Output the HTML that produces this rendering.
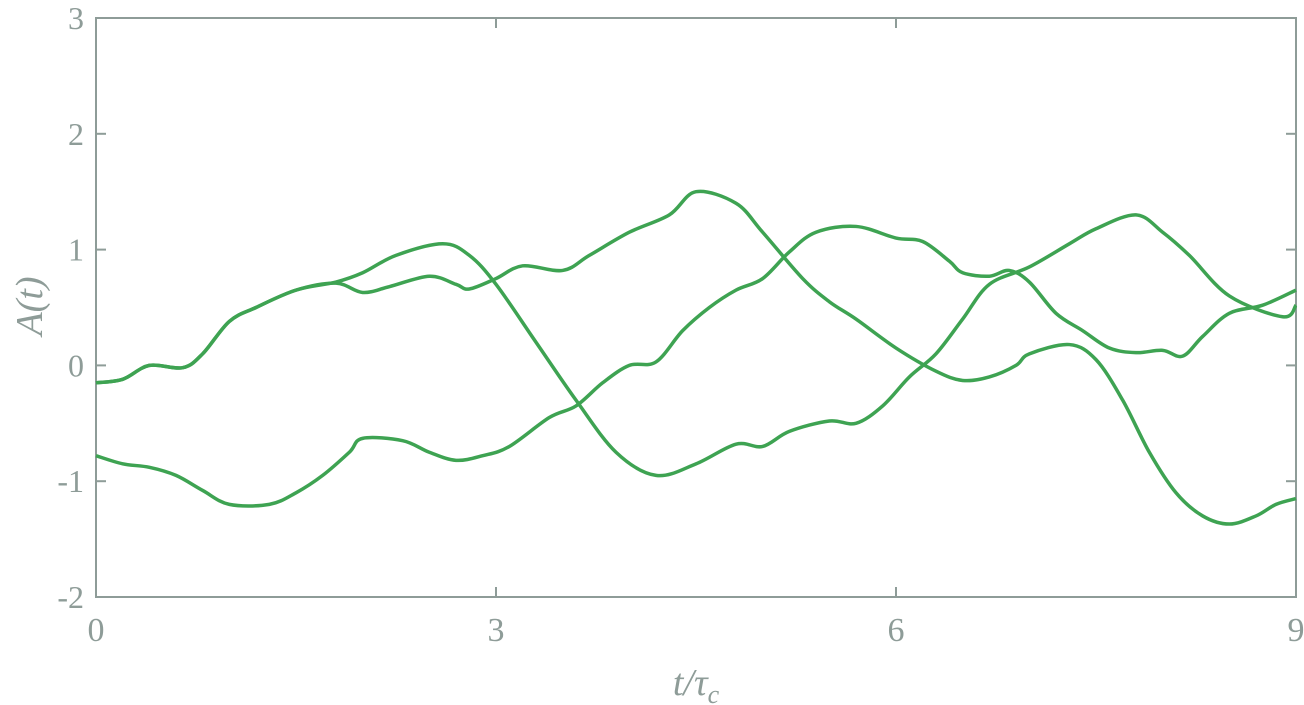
<!DOCTYPE html>
<html><head><meta charset="utf-8"><style>
html,body{margin:0;padding:0;background:#fff;}
svg{display:block;}
text{font-family:"Liberation Serif",serif;fill:#8e9c98;}
</style></head><body>
<svg id="chart" width="1304" height="705" viewBox="0 0 1304 705" xmlns="http://www.w3.org/2000/svg"></svg>
<script>
const xTicks=[0,3,6,9];
const yTicks=[-2,-1,0,1,2,3];
const xTickLabels=["0","3","6","9"];
const yTickLabels=["-2","-1","0","1","2","3"];
const s1t=[0,0.2,0.4,0.65,0.8,1.0,1.2,1.5,1.8,2.0,2.2,2.5,2.7,2.8,3.0,3.2,3.5,3.7,4.0,4.3,4.5,4.8,5.0,5.3,5.5,5.7,6.0,6.3,6.5,6.7,6.9,7.0,7.3,7.5,7.7,7.9,8.1,8.3,8.5,8.7,8.85,9.0];
const s1v=[-0.15,-0.12,0.0,-0.02,0.1,0.38,0.5,0.65,0.71,0.63,0.68,0.77,0.7,0.66,0.75,0.86,0.82,0.95,1.15,1.3,1.5,1.4,1.15,0.75,0.55,0.4,0.15,-0.05,-0.13,-0.1,0.0,0.1,0.18,0.05,-0.3,-0.75,-1.1,-1.3,-1.37,-1.3,-1.2,-1.15];
const s2t=[0,0.2,0.4,0.6,0.8,1.0,1.3,1.5,1.7,1.9,2.0,2.3,2.5,2.7,2.9,3.1,3.4,3.6,3.8,4.0,4.2,4.4,4.6,4.8,5.0,5.2,5.4,5.7,6.0,6.2,6.4,6.5,6.7,6.85,7.0,7.2,7.4,7.6,7.8,8.0,8.15,8.3,8.5,8.75,9.0];
const s2v=[-0.78,-0.85,-0.88,-0.95,-1.08,-1.2,-1.2,-1.1,-0.95,-0.75,-0.63,-0.65,-0.75,-0.82,-0.78,-0.7,-0.45,-0.35,-0.15,0.0,0.03,0.3,0.5,0.65,0.75,0.98,1.15,1.2,1.1,1.07,0.9,0.8,0.77,0.82,0.72,0.45,0.3,0.15,0.11,0.13,0.08,0.25,0.45,0.52,0.65];
const s3t=[0,0.2,0.4,0.65,0.8,1.0,1.2,1.5,1.8,2.0,2.25,2.6,2.8,3.0,3.3,3.6,3.9,4.2,4.5,4.8,5.0,5.2,5.5,5.7,5.9,6.1,6.3,6.5,6.7,7.0,7.3,7.5,7.8,8.0,8.2,8.5,8.9,9.0];
const s3v=[-0.15,-0.12,0.0,-0.02,0.1,0.38,0.5,0.65,0.72,0.8,0.95,1.05,0.95,0.7,0.2,-0.3,-0.75,-0.95,-0.85,-0.68,-0.7,-0.57,-0.48,-0.5,-0.35,-0.1,0.1,0.4,0.7,0.85,1.05,1.18,1.3,1.15,0.95,0.6,0.42,0.52];
const NS="http://www.w3.org/2000/svg";
const svg=document.getElementById('chart');
const X0=96,X1=1296,Y0=597,Y1=18;
const xs=v=>X0+(v-0)/(9-0)*(X1-X0);
const ys=v=>Y0-(v+2)/5*(Y0-Y1);
function mk(tag,attrs){const e=document.createElementNS(NS,tag);for(const k in attrs)e.setAttribute(k,attrs[k]);svg.appendChild(e);return e;}
const col="#8e9c98";
const frame=mk('rect',{x:X0,y:Y1,width:X1-X0,height:Y0-Y1,fill:'none',stroke:col,'stroke-width':2});


xTicks.forEach((t,i)=>{
  const x=xs(t);
  const a=mk('line',{x1:x,y1:Y0,x2:x,y2:Y0-10,stroke:col,'stroke-width':2});
  
  
  const b=mk('line',{x1:x,y1:Y1,x2:x,y2:Y1+10,stroke:col,'stroke-width':2});
  
  
  const l=mk('text',{x:x,y:641,'text-anchor':'middle','font-size':34});
  l.textContent=xTickLabels[i];
  
  
});
yTicks.forEach((t,i)=>{
  const y=ys(t);
  const a=mk('line',{x1:X0,y1:y,x2:X0+10,y2:y,stroke:col,'stroke-width':2});
  
  
  const b=mk('line',{x1:X1,y1:y,x2:X1-10,y2:y,stroke:col,'stroke-width':2});
  
  
  const l=mk('text',{x:84,y:y+11,'text-anchor':'end','font-size':32});
  l.textContent=yTickLabels[i];
  
  
});
const xt=mk('text',{x:696,y:695,'text-anchor':'middle','font-size':38,'font-style':'italic'});
xt.innerHTML='t/τ<tspan font-size="26" dy="8">c</tspan>';


const yt=mk('text',{x:0,y:0,'text-anchor':'middle','font-size':38,'font-style':'italic',transform:'translate(42,306) rotate(-90)'});
yt.textContent='A(t)';


function path(ts,vs){
  const p=ts.map((t,i)=>[xs(t),ys(vs[i])]);
  let d='M'+p[0][0]+','+p[0][1];
  for(let i=0;i<p.length-1;i++){
    const p0=p[Math.max(0,i-1)],p1=p[i],p2=p[i+1],p3=p[Math.min(p.length-1,i+2)];
    const c1=[p1[0]+(p2[0]-p0[0])/6,p1[1]+(p2[1]-p0[1])/6];
    const c2=[p2[0]-(p3[0]-p1[0])/6,p2[1]-(p3[1]-p1[1])/6];
    d+=' C'+c1+' '+c2+' '+p2;
  }
  return d;
}
[[s1t,s1v,'series-1'],[s2t,s2v,'series-2'],[s3t,s3v,'series-3']].forEach(s=>{
  const e=mk('path',{d:path(s[0],s[1]),fill:'none',stroke:'#3ea352','stroke-width':3.5,'stroke-linejoin':'round'});
  
  
});
</script>
</body></html>
